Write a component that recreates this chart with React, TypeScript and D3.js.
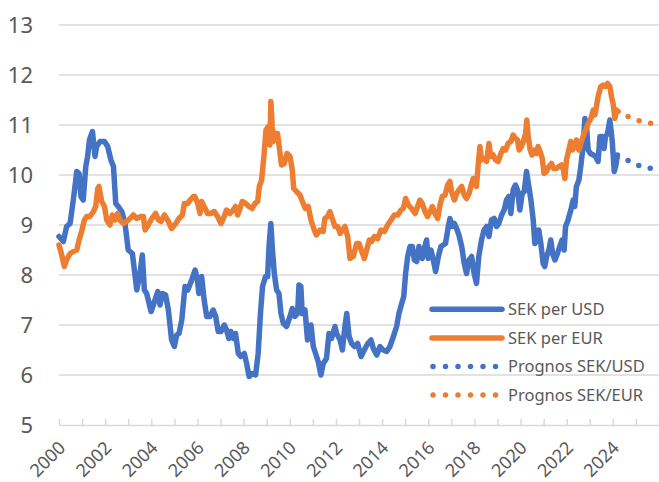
import React, { useEffect, useRef } from "react";
import * as d3 from "d3";

// [år, kurs]
const sekPerUsd: [number, number][] = [
  [2000.0, 8.77], [2000.19, 8.67], [2000.33, 8.97], [2000.48, 9.03], [2000.62, 9.5], [2000.77, 10.07],
  [2000.87, 10.03], [2000.95, 9.57], [2001.05, 9.5], [2001.16, 10.17], [2001.24, 10.37], [2001.32, 10.7],
  [2001.45, 10.87], [2001.56, 10.37], [2001.63, 10.57], [2001.78, 10.67], [2001.97, 10.67], [2002.11, 10.57],
  [2002.25, 10.3], [2002.36, 10.17], [2002.46, 9.43], [2002.57, 9.37], [2002.72, 9.27], [2002.86, 9.03],
  [2003.0, 8.5], [2003.18, 8.43], [2003.37, 7.7], [2003.51, 8.03], [2003.61, 8.4], [2003.7, 7.7],
  [2003.8, 7.63], [2003.99, 7.27], [2004.16, 7.5], [2004.28, 7.67], [2004.38, 7.4], [2004.48, 7.63],
  [2004.62, 7.6], [2004.74, 7.3], [2004.88, 6.7], [2005.0, 6.57], [2005.1, 6.8], [2005.2, 6.83],
  [2005.32, 7.1], [2005.46, 7.77], [2005.58, 7.7], [2005.75, 7.9], [2005.9, 8.1], [2006.0, 7.9],
  [2006.06, 7.63], [2006.18, 7.97], [2006.29, 7.5], [2006.4, 7.17], [2006.54, 7.17], [2006.68, 7.3],
  [2006.79, 7.17], [2006.9, 6.87], [2007.02, 6.87], [2007.16, 7.0], [2007.26, 6.9], [2007.36, 6.73],
  [2007.45, 6.87], [2007.55, 6.73], [2007.65, 6.83], [2007.77, 6.43], [2007.88, 6.37], [2008.03, 6.43],
  [2008.13, 6.23], [2008.24, 5.97], [2008.37, 6.03], [2008.52, 6.0], [2008.63, 6.43], [2008.73, 7.23],
  [2008.82, 7.77], [2008.95, 7.97], [2009.04, 7.97], [2009.1, 8.57], [2009.18, 9.03], [2009.25, 8.5],
  [2009.33, 8.03], [2009.43, 7.7], [2009.53, 7.63], [2009.62, 7.23], [2009.72, 7.03], [2009.86, 6.97],
  [2010.01, 7.17], [2010.11, 7.33], [2010.22, 7.17], [2010.34, 7.23], [2010.4, 7.8], [2010.48, 7.77],
  [2010.54, 7.23], [2010.66, 7.3], [2010.77, 6.7], [2010.92, 7.0], [2011.02, 6.57], [2011.12, 6.43],
  [2011.23, 6.27], [2011.35, 6.0], [2011.45, 6.23], [2011.59, 6.33], [2011.7, 6.83], [2011.81, 6.73],
  [2011.96, 6.97], [2012.03, 6.83], [2012.18, 6.7], [2012.28, 6.5], [2012.39, 6.97], [2012.47, 7.23],
  [2012.57, 6.77], [2012.68, 6.63], [2012.8, 6.57], [2012.94, 6.63], [2013.09, 6.37], [2013.23, 6.5],
  [2013.38, 6.63], [2013.52, 6.7], [2013.62, 6.53], [2013.77, 6.4], [2013.91, 6.57], [2014.05, 6.5],
  [2014.2, 6.47], [2014.34, 6.57], [2014.49, 6.77], [2014.63, 6.97], [2014.73, 7.23], [2014.85, 7.43],
  [2014.94, 7.57], [2015.02, 8.03], [2015.11, 8.37], [2015.21, 8.57], [2015.31, 8.57], [2015.4, 8.3],
  [2015.5, 8.27], [2015.6, 8.57], [2015.69, 8.43], [2015.74, 8.33], [2015.83, 8.53], [2015.93, 8.7],
  [2016.0, 8.33], [2016.12, 8.5], [2016.22, 8.3], [2016.32, 8.07], [2016.44, 8.37], [2016.55, 8.57],
  [2016.65, 8.6], [2016.75, 8.63], [2016.87, 8.97], [2016.94, 9.13], [2017.04, 8.97], [2017.13, 9.03],
  [2017.23, 8.93], [2017.33, 8.8], [2017.45, 8.57], [2017.56, 8.23], [2017.66, 8.03], [2017.77, 8.3],
  [2017.88, 8.37], [2017.99, 8.03], [2018.09, 7.83], [2018.19, 8.37], [2018.31, 8.7], [2018.42, 8.9],
  [2018.53, 8.97], [2018.63, 8.77], [2018.74, 9.1], [2018.86, 9.13], [2018.96, 8.97], [2019.06, 9.03],
  [2019.18, 9.2], [2019.29, 9.3], [2019.39, 9.5], [2019.49, 9.57], [2019.58, 9.23], [2019.68, 9.7],
  [2019.78, 9.8], [2019.87, 9.7], [2019.97, 9.3], [2020.07, 9.63], [2020.16, 9.67], [2020.26, 10.07],
  [2020.36, 9.77], [2020.45, 9.5], [2020.55, 9.1], [2020.62, 8.63], [2020.74, 8.7], [2020.79, 8.9],
  [2020.88, 8.63], [2020.98, 8.23], [2021.05, 8.17], [2021.13, 8.37], [2021.23, 8.5], [2021.31, 8.7],
  [2021.39, 8.43], [2021.49, 8.3], [2021.6, 8.43], [2021.7, 8.57], [2021.8, 8.7], [2021.89, 8.5],
  [2021.95, 8.97], [2022.06, 9.1], [2022.18, 9.3], [2022.28, 9.5], [2022.35, 9.37], [2022.42, 9.77],
  [2022.53, 9.9], [2022.61, 10.17], [2022.71, 10.57], [2022.79, 11.13], [2022.86, 10.97], [2022.93, 10.5],
  [2023.03, 10.43], [2023.15, 10.4], [2023.25, 10.37], [2023.36, 10.27], [2023.44, 10.77], [2023.54, 10.77],
  [2023.62, 10.53], [2023.68, 10.77], [2023.77, 10.83], [2023.87, 11.1], [2023.97, 10.7], [2024.06, 10.07],
  [2024.12, 10.17], [2024.2, 10.4],
];

const sekPerEur: [number, number][] = [
  [2000.0, 8.6], [2000.12, 8.4], [2000.23, 8.17], [2000.33, 8.3], [2000.48, 8.43], [2000.62, 8.47],
  [2000.77, 8.5], [2000.87, 8.7], [2000.98, 8.87], [2001.1, 9.1], [2001.2, 9.17], [2001.34, 9.17],
  [2001.49, 9.27], [2001.59, 9.37], [2001.68, 9.73], [2001.73, 9.77], [2001.85, 9.47], [2001.97, 9.37],
  [2002.07, 9.1], [2002.21, 9.0], [2002.31, 9.2], [2002.43, 9.1], [2002.54, 9.23], [2002.64, 9.1],
  [2002.79, 9.03], [2002.93, 9.07], [2003.08, 9.13], [2003.22, 9.2], [2003.37, 9.13], [2003.55, 9.17],
  [2003.66, 9.17], [2003.73, 8.9], [2003.87, 9.0], [2004.02, 9.13], [2004.19, 9.23], [2004.31, 9.1],
  [2004.42, 9.07], [2004.57, 9.2], [2004.71, 9.1], [2004.88, 8.93], [2005.06, 9.03], [2005.2, 9.13],
  [2005.35, 9.2], [2005.43, 9.43], [2005.58, 9.43], [2005.68, 9.5], [2005.82, 9.57], [2005.89, 9.57],
  [2006.01, 9.43], [2006.11, 9.23], [2006.18, 9.47], [2006.29, 9.37], [2006.44, 9.23], [2006.58, 9.23],
  [2006.73, 9.27], [2006.87, 9.17], [2007.02, 9.03], [2007.16, 9.17], [2007.26, 9.3], [2007.41, 9.23],
  [2007.55, 9.3], [2007.65, 9.37], [2007.74, 9.2], [2007.84, 9.33], [2007.94, 9.47], [2008.09, 9.43],
  [2008.23, 9.37], [2008.37, 9.33], [2008.49, 9.43], [2008.61, 9.47], [2008.68, 9.77], [2008.78, 9.9],
  [2008.89, 10.43], [2008.97, 10.9], [2009.07, 10.97], [2009.14, 10.6], [2009.18, 11.47], [2009.24, 10.97],
  [2009.3, 10.67], [2009.38, 10.83], [2009.47, 10.83], [2009.56, 10.5], [2009.64, 10.2], [2009.76, 10.23],
  [2009.88, 10.43], [2010.01, 10.37], [2010.11, 10.1], [2010.17, 9.73], [2010.29, 9.67], [2010.44, 9.6],
  [2010.58, 9.43], [2010.68, 9.33], [2010.8, 9.37], [2010.92, 9.1], [2011.06, 8.9], [2011.16, 8.8],
  [2011.31, 8.9], [2011.45, 8.87], [2011.52, 9.13], [2011.64, 9.17], [2011.74, 9.27], [2011.84, 9.13],
  [2011.96, 8.97], [2012.08, 8.97], [2012.18, 8.83], [2012.28, 8.9], [2012.39, 8.97], [2012.51, 8.77],
  [2012.61, 8.33], [2012.75, 8.37], [2012.9, 8.63], [2013.0, 8.63], [2013.12, 8.47], [2013.23, 8.33],
  [2013.33, 8.5], [2013.45, 8.7], [2013.55, 8.67], [2013.66, 8.77], [2013.81, 8.73], [2013.95, 8.9],
  [2014.1, 8.87], [2014.24, 9.0], [2014.39, 9.1], [2014.53, 9.2], [2014.68, 9.2], [2014.82, 9.3],
  [2014.92, 9.33], [2015.02, 9.53], [2015.14, 9.4], [2015.28, 9.33], [2015.43, 9.23], [2015.54, 9.37],
  [2015.64, 9.5], [2015.74, 9.43], [2015.86, 9.27], [2015.97, 9.17], [2016.08, 9.27], [2016.18, 9.37],
  [2016.29, 9.23], [2016.41, 9.13], [2016.51, 9.4], [2016.61, 9.57], [2016.73, 9.6], [2016.84, 9.8],
  [2016.94, 9.87], [2017.01, 9.67], [2017.13, 9.5], [2017.23, 9.63], [2017.33, 9.7], [2017.45, 9.77],
  [2017.56, 9.6], [2017.66, 9.53], [2017.77, 9.63], [2017.88, 9.83], [2017.95, 9.93], [2018.09, 9.77],
  [2018.16, 10.17], [2018.24, 10.57], [2018.31, 10.3], [2018.42, 10.33], [2018.53, 10.27], [2018.63, 10.63],
  [2018.71, 10.37], [2018.81, 10.4], [2018.92, 10.3], [2019.03, 10.27], [2019.15, 10.43], [2019.25, 10.53],
  [2019.35, 10.5], [2019.46, 10.63], [2019.58, 10.67], [2019.68, 10.8], [2019.78, 10.73], [2019.87, 10.7],
  [2019.94, 10.5], [2020.04, 10.57], [2020.14, 10.7], [2020.22, 10.83], [2020.27, 11.1], [2020.33, 10.77],
  [2020.42, 10.5], [2020.5, 10.4], [2020.59, 10.5], [2020.69, 10.43], [2020.76, 10.57], [2020.85, 10.47],
  [2020.94, 10.33], [2021.02, 10.03], [2021.12, 10.07], [2021.23, 10.17], [2021.34, 10.23], [2021.44, 10.13],
  [2021.56, 10.13], [2021.66, 10.17], [2021.77, 10.2], [2021.86, 10.1], [2021.92, 9.93], [2021.99, 10.3],
  [2022.09, 10.5], [2022.18, 10.67], [2022.25, 10.5], [2022.35, 10.57], [2022.42, 10.7], [2022.53, 10.5],
  [2022.61, 10.63], [2022.71, 10.77], [2022.82, 10.9], [2022.93, 11.03], [2023.05, 11.13], [2023.15, 11.3],
  [2023.22, 11.2], [2023.29, 11.37], [2023.36, 11.57], [2023.48, 11.77], [2023.58, 11.8], [2023.68, 11.77],
  [2023.77, 11.83], [2023.87, 11.77], [2023.94, 11.57], [2024.01, 11.43], [2024.09, 11.13], [2024.16, 11.3],
  [2024.23, 11.27],
];

const prognosYears = [2024.66, 2025.17, 2025.67];
const prognosUsd = [10.29, 10.18, 10.13];
const prognosEur = [11.17, 11.08, 11.03];

const yTicks = [5, 6, 7, 8, 9, 10, 11, 12, 13];
const yearTicks = d3.range(2000, 2027);
const yearLabels = [2000, 2002, 2004, 2006, 2008, 2010, 2012, 2014, 2016, 2018, 2020, 2022, 2024];

const legendLabels = ["SEK per USD", "SEK per EUR", "Prognos SEK/USD", "Prognos SEK/EUR"];
const blue = "#4472C4";
const orange = "#ED7D31";
const textColor = "#595959";
const gridColor = "#D9D9D9";
const font = "'Noto Sans', 'Open Sans', sans-serif";

const width = 659;
const height = 482;

const App = () => {
  const svgRef = useRef<SVGSVGElement>(null);

  useEffect(() => {
    const svg = d3.select(svgRef.current);
    svg.selectAll("*").remove();

    const x = d3.scaleLinear().domain([2000, 2026]).range([59, 659]);
    const y = d3.scaleLinear().domain([5, 13]).range([425, 25]);

    // stödlinjer
    svg
      .append("g")
      .selectAll("line")
      .data(yTicks.filter((d) => d > 5))
      .join("line")
      .attr("x1", x(2000))
      .attr("x2", width)
      .attr("y1", (d) => y(d))
      .attr("y2", (d) => y(d))
      .attr("stroke", gridColor)
      .attr("stroke-width", 1.5);

    // y-axelns etiketter
    svg
      .append("g")
      .selectAll("text")
      .data(yTicks)
      .join("text")
      .attr("x", 33)
      .attr("y", (d) => y(d))
      .attr("dy", "0.36em")
      .attr("text-anchor", "end")
      .attr("font-family", font)
      .attr("font-size", 22)
      .attr("fill", textColor)
      .text((d) => d);

    // x-axel
    const xAxis = svg
      .append("g")
      .attr("transform", `translate(0,${y(5)})`)
      .call(
        d3
          .axisBottom(x)
          .tickValues(yearTicks)
          .tickSize(-6)
          .tickSizeOuter(0)
          .tickFormat((d) => (yearLabels.includes(+d) ? String(d) : ""))
      );
    xAxis.select(".domain").attr("stroke", gridColor).attr("stroke-width", 1.5);
    xAxis.selectAll(".tick line").attr("stroke", gridColor).attr("stroke-width", 1.5);
    xAxis
      .selectAll(".tick text")
      .attr("y", 0)
      .attr("dy", 0)
      .attr("text-anchor", "end")
      .attr("transform", "translate(7,24) rotate(-45)")
      .attr("font-family", font)
      .attr("font-size", 18)
      .attr("fill", textColor);

    const line = d3
      .line<[number, number]>()
      .x((d) => x(d[0]))
      .y((d) => y(d[1]));

    // kursserier
    [
      { data: sekPerUsd, color: blue },
      { data: sekPerEur, color: orange },
    ].forEach((s) => {
      svg
        .append("path")
        .datum(s.data)
        .attr("d", line)
        .attr("fill", "none")
        .attr("stroke", s.color)
        .attr("stroke-width", 5.5)
        .attr("stroke-linejoin", "round")
        .attr("stroke-linecap", "round");
    });

    // prognoser, prickade
    [
      { values: prognosUsd, color: blue },
      { values: prognosEur, color: orange },
    ].forEach((s) => {
      const pts = prognosYears.map((yr, i) => [yr, s.values[i]] as [number, number]);
      svg
        .append("path")
        .datum(pts)
        .attr("d", line)
        .attr("fill", "none")
        .attr("stroke", s.color)
        .attr("stroke-width", 5.5)
        .attr("stroke-linecap", "round")
        .attr("stroke-dasharray", "0 11.8");
    });

    // legend
    const legend = svg
      .append("g")
      .selectAll("g")
      .data(legendLabels)
      .join("g")
      .attr("transform", (_, i) => `translate(0,${309.3 + i * 28.6})`);

    legend
      .append("line")
      .attr("x1", (_, i) => (i < 2 ? 432 : 433))
      .attr("x2", (_, i) => (i < 2 ? 502 : 497))
      .attr("stroke", (_, i) => (i % 2 === 0 ? blue : orange))
      .attr("stroke-width", 5.5)
      .attr("stroke-linecap", "round")
      .attr("stroke-dasharray", (_, i) => (i < 2 ? null : "0 12.5"));

    legend
      .append("text")
      .attr("x", 508)
      .attr("dy", "0.35em")
      .attr("font-family", font)
      .attr("font-size", 16.5)
      .attr("fill", textColor)
      .text((d) => d);
  }, []);

  return (
    <svg
      ref={svgRef}
      width={width}
      height={height}
      style={{ position: "absolute", left: 0, top: 0, background: "#fff" }}
    ></svg>
  );
};

export default App;
